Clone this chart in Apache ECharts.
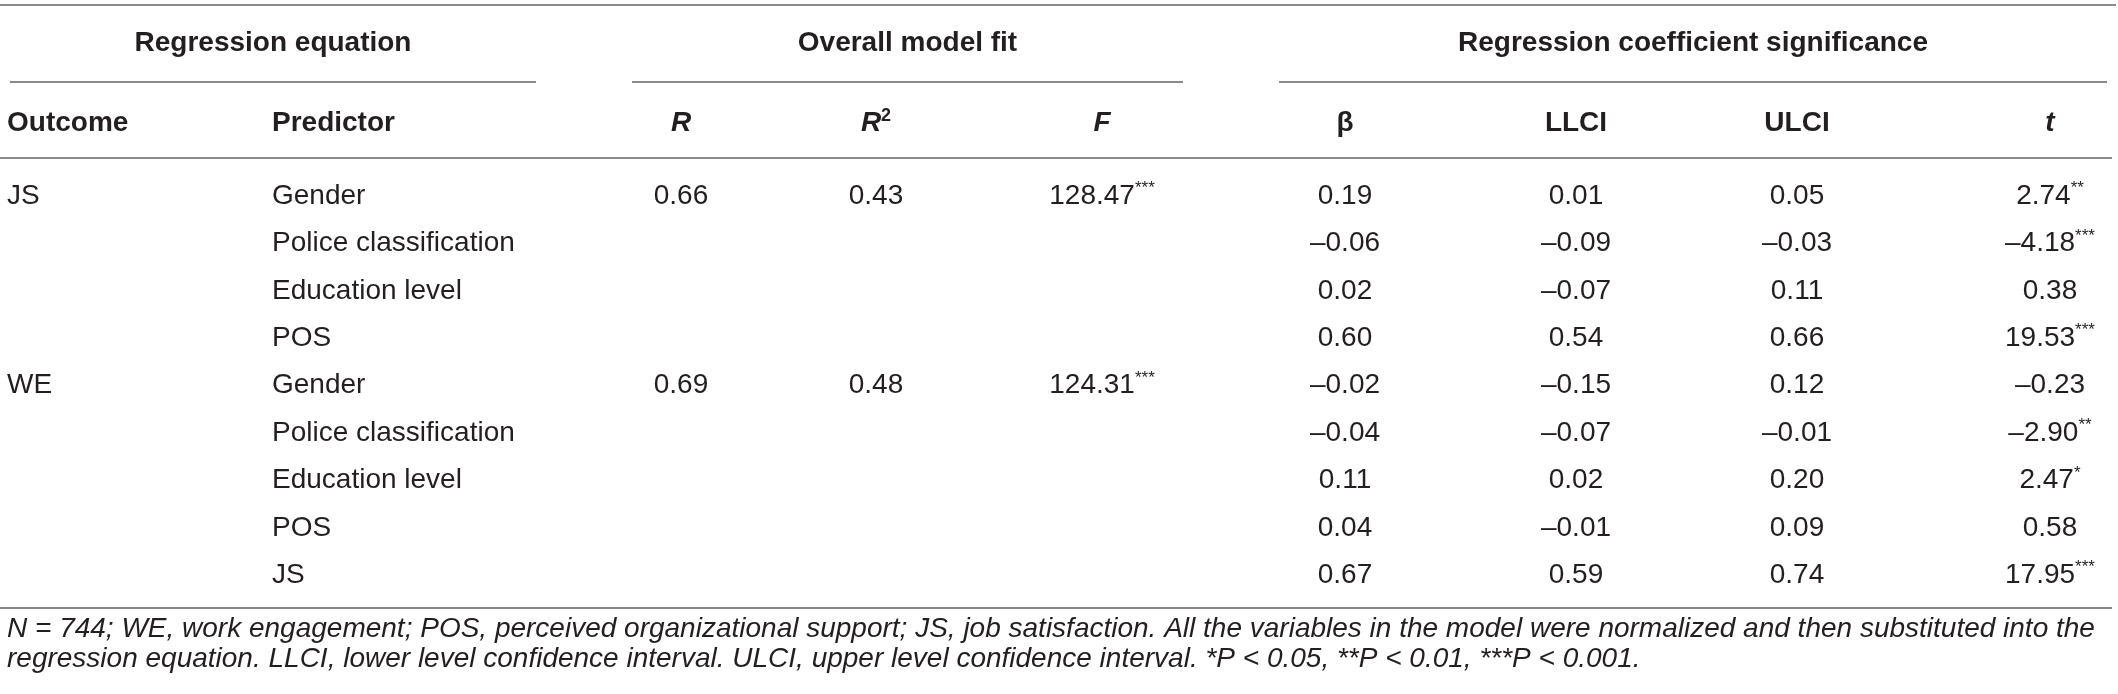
<!DOCTYPE html>
<html>
<head>
<meta charset="utf-8">
<title>Regression table</title>
<script src="https://cdn.jsdelivr.net/npm/echarts@6/dist/echarts.min.js"></script>
<style>
  html, body { margin: 0; padding: 0; background: #fff; }
  #main { width: 2118px; height: 694px; }
</style>
</head>
<body>
<div id="main"></div>
<script>
// table content
var groupHeaders = ['Regression equation', 'Overall model fit', 'Regression coefficient significance'];
var columnHeaders = ['Outcome', 'Predictor', '{bi|R}', '{bi|R}{sup|2}', '{bi|F}', '{b|β}', '{b|LLCI}', '{b|ULCI}', '{bi|t}'];

var outcomes   = ['JS', '', '', '', 'WE', '', '', '', ''];
var predictors = ['Gender', 'Police classification', 'Education level', 'POS',
                  'Gender', 'Police classification', 'Education level', 'POS', 'JS'];
var rVals   = [0.66, null, null, null, 0.69, null, null, null, null];
var r2Vals  = [0.43, null, null, null, 0.48, null, null, null, null];
var fVals   = [128.47, null, null, null, 124.31, null, null, null, null];
var fStars  = ['***', '', '', '', '***', '', '', '', ''];
var betaVals = [0.19, -0.06, 0.02, 0.60, -0.02, -0.04, 0.11, 0.04, 0.67];
var llciVals = [0.01, -0.09, -0.07, 0.54, -0.15, -0.07, 0.02, -0.01, 0.59];
var ulciVals = [0.05, -0.03, 0.11, 0.66, 0.12, -0.01, 0.20, 0.09, 0.74];
var tVals    = [2.74, -4.18, 0.38, 19.53, -0.23, -2.90, 2.47, 0.58, 17.95];
var tStars   = ['**', '***', '', '***', '', '**', '*', '', '***'];

var footnote = [
  'N = 744; WE, work engagement; POS, perceived organizational support; JS, job satisfaction. All the variables in the model were normalized and then substituted into the',
  'regression equation. LLCI, lower level confidence interval. ULCI, upper level confidence interval. *P < 0.05, **P < 0.01, ***P < 0.001.'
];

// layout (axis units = px of the 2118x694 canvas)
var colX = [7, 272, 681, 876, 1102, 1345, 1576, 1797, 2050];
var groupSpans = [[10, 536], [632, 1183], [1279, 2107]];
var yGroup = 43, yHead = 123, yRow0 = 196, rowStep = 47.4;
var yNote = [629, 659];
var rules = [
  [0, 2116, 5],
  [groupSpans[0][0], groupSpans[0][1], 82],
  [groupSpans[1][0], groupSpans[1][1], 82],
  [groupSpans[2][0], groupSpans[2][1], 82],
  [0, 2112, 158],
  [0, 2112, 608]
];

function fmt(v, stars) {
  if (v === null || v === undefined) return '';
  var s = (v < 0 ? '\u2013' : '') + Math.abs(v).toFixed(2);
  return '{n|' + s + '}' + (stars ? '{s|' + stars + '}' : '');
}

// build cell list
var cells = [];
groupHeaders.forEach(function (g, i) {
  cells.push({ x: (groupSpans[i][0] + groupSpans[i][1]) / 2, y: yGroup, text: g, align: 'center', weight: 'bold' });
});
columnHeaders.forEach(function (h, i) {
  cells.push({ x: colX[i], y: yHead, text: h, align: i < 2 ? 'left' : 'center', weight: 'bold' });
});
var valueCols = [
  [rVals, null], [r2Vals, null], [fVals, fStars],
  [betaVals, null], [llciVals, null], [ulciVals, null], [tVals, tStars]
];
predictors.forEach(function (p, r) {
  var y = yRow0 + r * rowStep;
  if (outcomes[r]) cells.push({ x: colX[0], y: y, text: outcomes[r], align: 'left' });
  cells.push({ x: colX[1], y: y, text: p, align: 'left' });
  valueCols.forEach(function (vc, k) {
    var t = fmt(vc[0][r], vc[1] ? vc[1][r] : '');
    if (t) cells.push({ x: colX[k + 2], y: y, text: t, align: 'center' });
  });
});
footnote.forEach(function (line, i) {
  cells.push({ x: colX[0], y: yNote[i], text: line, align: 'left', italic: true });
});

var TEXT = '#231f20';
var FONT = '"Liberation Sans", Arial, sans-serif';
var RICH = {
  n: { fontFamily: FONT, fontSize: 28, lineHeight: 32, color: TEXT },
  s: { fontFamily: FONT, fontSize: 17, lineHeight: 17, verticalAlign: 'top', color: TEXT },
  b: { fontFamily: FONT, fontSize: 28, lineHeight: 32, fontWeight: 'bold', color: TEXT },
  bi: { fontFamily: FONT, fontSize: 28, lineHeight: 32, fontWeight: 'bold', fontStyle: 'italic', color: TEXT },
  sup: { fontFamily: FONT, fontSize: 18, lineHeight: 18, fontWeight: 'bold', verticalAlign: 'top', color: TEXT }
};

var myChart = echarts.init(document.getElementById('main'));

var option = {
  animation: false,
  grid: { left: 0, right: 0, top: 0, bottom: 0 },
  xAxis: { type: 'value', min: 0, max: 2118, show: false },
  yAxis: { type: 'value', min: 0, max: 694, inverse: true, show: false },
  series: [
    {
      type: 'custom',
      coordinateSystem: 'cartesian2d',
      data: rules,
      renderItem: function (params, api) {
        var a = api.coord([api.value(0), api.value(2)]);
        var b = api.coord([api.value(1), api.value(2)]);
        return {
          type: 'line',
          shape: { x1: a[0], y1: a[1], x2: b[0], y2: b[1] },
          style: { stroke: '#8a8a8a', lineWidth: 2 }
        };
      }
    },
    {
      type: 'custom',
      coordinateSystem: 'cartesian2d',
      data: cells.map(function (c) { return [c.x, c.y]; }),
      renderItem: function (params, api) {
        var c = cells[params.dataIndex];
        var p = api.coord([api.value(0), api.value(1)]);
        return {
          type: 'text',
          x: p[0],
          y: p[1],
          style: {
            text: c.text,
            rich: RICH,
            fill: TEXT,
            fontFamily: FONT,
            fontSize: 28,
            fontWeight: c.weight || 'normal',
            fontStyle: c.italic ? 'italic' : 'normal',
            textAlign: c.align,
            textVerticalAlign: 'middle'
          }
        };
      }
    }
  ]
};

myChart.setOption(option);
</script>
</body>
</html>
